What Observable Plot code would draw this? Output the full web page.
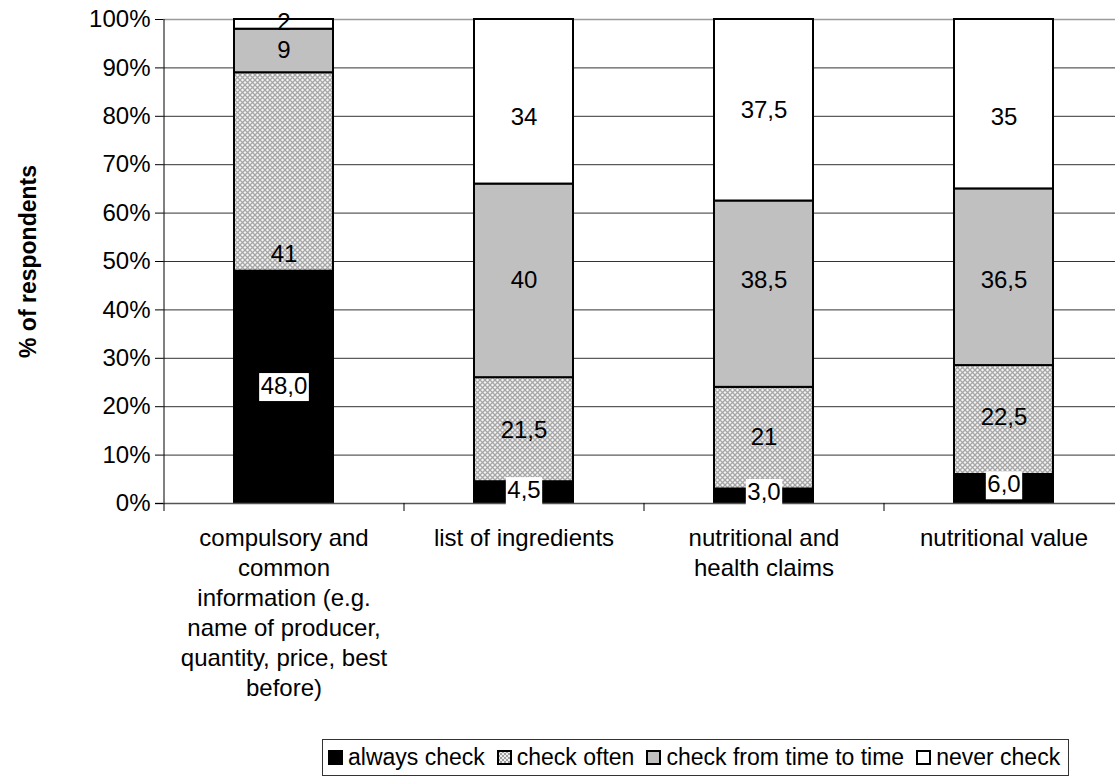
<!DOCTYPE html>
<html>
<head>
<meta charset="utf-8">
<script src="https://cdn.jsdelivr.net/npm/d3@7"></script>
<script src="https://cdn.jsdelivr.net/npm/@observablehq/plot@0.6"></script>
<style>
  html, body { margin: 0; padding: 0; background: #fff; }
  body { font-family: "Liberation Sans", Arial, sans-serif; width: 1115px; height: 778px; position: relative; overflow: hidden; }
  #chart { position: absolute; left: 0; top: 0; }
  #legend { position: absolute; left: 322px; top: 739px; height: 37px; box-sizing: border-box;
            border: 1px solid #333; display: flex; align-items: center; padding: 0 8px 0 5px;
            font-size: 23px; color: #000; white-space: nowrap; background: #fff; }
  #legend .item { display: flex; align-items: center; margin-right: 12px; }
  #legend .item:last-child { margin-right: 0; }
  #legend .sw { width: 15px; height: 15px; margin-right: 5px; display: block; }
</style>
</head>
<body>
<div id="chart"></div>
<div id="legend"></div>
<script>
// ---- data ----
const categories = [
  "compulsory and common information (e.g. name of producer, quantity, price, best before)",
  "list of ingredients",
  "nutritional and health claims",
  "nutritional value"
];
const categoryLines = [
  "compulsory and\ncommon\ninformation (e.g.\nname of producer,\nquantity, price, best\nbefore)",
  "list of ingredients",
  "nutritional and\nhealth claims",
  "nutritional value"
];
const series = ["always check", "check often", "check from time to time", "never check"];
const alwaysCheck = [48.0, 4.5, 3.0, 6.0];
const checkOften = [41, 21.5, 21, 22.5];
const checkFromTimeToTime = [9, 40, 38.5, 36.5];
const neverCheck = [2, 34, 37.5, 35];
const alwaysLabels = ["48,0", "4,5", "3,0", "6,0"];
const oftenLabels = ["41", "21,5", "21", "22,5"];
const timeLabels = ["9", "40", "38,5", "36,5"];
const neverLabels = ["2", "34", "37,5", "35"];
// where each value label sits, in % of respondents
const alwaysLabelAt = [24.2, 2.7, 2.3, 3.9];
const oftenLabelAt = [51.4, 15.1, 13.6, 17.8];
const timeLabelAt = [93.6, 46.1, 46.1, 46.1];
const neverLabelAt = [99.4, 79.8, 81.2, 79.8];
const yTicks = [0, 10, 20, 30, 40, 50, 60, 70, 80, 90, 100];
const yTitle = "% of respondents";

// ---- build table ----
const seriesValues = [alwaysCheck, checkOften, checkFromTimeToTime, neverCheck];
const seriesLabels = [alwaysLabels, oftenLabels, timeLabels, neverLabels];
const seriesLabelAt = [alwaysLabelAt, oftenLabelAt, timeLabelAt, neverLabelAt];
const rows = [];
categories.forEach((c, i) => {
  let acc = 0;
  series.forEach((s, j) => {
    const v = seriesValues[j][i];
    rows.push({category: c, series: s, value: v, label: seriesLabels[j][i], y1: acc, y2: acc + v, at: seriesLabelAt[j][i]});
    acc += v;
  });
});
const fills = ["#000000", "url(#hatch)", "#c0c0c0", "#ffffff"];

// layout
const W = 1115, H = 735;
const plotLeft = 163, plotRight = 1123;
const step = (plotRight - plotLeft) / categories.length;
const FONT = "'Liberation Sans', Arial, sans-serif";

const chart = Plot.plot({
  width: W,
  height: H,
  marginLeft: plotLeft,
  marginRight: 0,
  marginTop: 19,
  marginBottom: 232,
  style: {fontFamily: FONT, fontSize: "24px", color: "#000", background: "#fff", overflow: "visible"},
  x: {type: "band", domain: categories, range: [plotLeft, plotRight], paddingInner: 0.5875, paddingOuter: 0.29375, label: null},
  y: {domain: [0, 100], label: null},
  color: {domain: series, range: fills},
  marks: [
    Plot.ruleY(yTicks.filter(d => d > 0 && d < 100), {y: d => d, stroke: "#333", strokeWidth: 1}),
    Plot.ruleY([100], {stroke: "#9a9a9a", strokeWidth: 1.5}),
    Plot.barY(rows, {x: "category", y1: "y1", y2: "y2", fill: "series", stroke: "#000", strokeWidth: 2}),
    // y axis line & x axis line
    Plot.ruleX([categories[0]], {dx: -step / 2, y1: 0, y2: 100, stroke: "#000", strokeWidth: 1}),
    Plot.ruleY([0], {stroke: "#555", strokeWidth: 1.5, insetLeft: -8}),
    // x tick marks at category boundaries
    Plot.ruleX(categories, {dx: -step / 2, y1: 0, y2: 0, insetTop: 8, stroke: "#000", strokeWidth: 1}),
    Plot.axisY({ticks: yTicks, tickFormat: d => d + "%", tickSize: 8, tickPadding: 5, fontSize: 24, stroke: "#000", fill: "#000"}),
    Plot.axisX({tickSize: 0, tickPadding: 21, tickFormat: d => categoryLines[categories.indexOf(d)], lineHeight: 1.25, fontSize: 24, fill: "#000"}),
    // segment labels
    Plot.text(rows, {x: "category", y: "at", text: "label", fill: "#000", fontSize: 24}),
    // y title
    Plot.text([yTitle], {frameAnchor: "left", dx: -135, rotate: -90, textAnchor: "middle", fontWeight: "bold", fontSize: 23, fill: "#000"})
  ]
});

// pattern definition for "check often"
const NS = "http://www.w3.org/2000/svg";
const defs = document.createElementNS(NS, "defs");
defs.innerHTML = `<pattern id="hatch" width="5" height="5" patternUnits="userSpaceOnUse">
  <rect width="5" height="5" fill="#f4f4f4"/>
  <path d="M0,0L5,5M5,0L0,5" stroke="#a6a6a6" stroke-width="1.3"/>
</pattern>`;
chart.insertBefore(defs, chart.firstChild);
document.getElementById("chart").appendChild(chart);

// white boxes behind "always check" labels
const boxed = new Set(alwaysLabels);
chart.querySelectorAll("text").forEach(t => {
  if (!boxed.has(t.textContent)) return;
  const b = t.getBBox();
  const r = document.createElementNS(NS, "rect");
  r.setAttribute("x", b.x - 1.5);
  r.setAttribute("y", b.y + 1);
  r.setAttribute("width", b.width + 3);
  r.setAttribute("height", b.height + 1);
  r.setAttribute("fill", "#fff");
  if (t.getAttribute("transform")) r.setAttribute("transform", t.getAttribute("transform"));
  t.parentNode.insertBefore(r, t);
});

// legend
const legend = document.getElementById("legend");
series.forEach((s, j) => {
  const item = document.createElement("div");
  item.className = "item";
  const swFill = j === 1 ? "url(#hatchL)" : fills[j];
  item.innerHTML = `<svg class="sw" width="15" height="15" viewBox="0 0 15 15">
    <defs><pattern id="hatchL" width="4" height="4" patternUnits="userSpaceOnUse">
      <rect width="4" height="4" fill="#f0f0f0"/><path d="M0,0L4,4M4,0L0,4" stroke="#a0a0a0" stroke-width="1"/></pattern></defs>
    <rect x="1" y="1" width="13" height="13" fill="${swFill}" stroke="#000" stroke-width="2"/></svg><span>${s}</span>`;
  legend.appendChild(item);
});
</script>
</body>
</html>
